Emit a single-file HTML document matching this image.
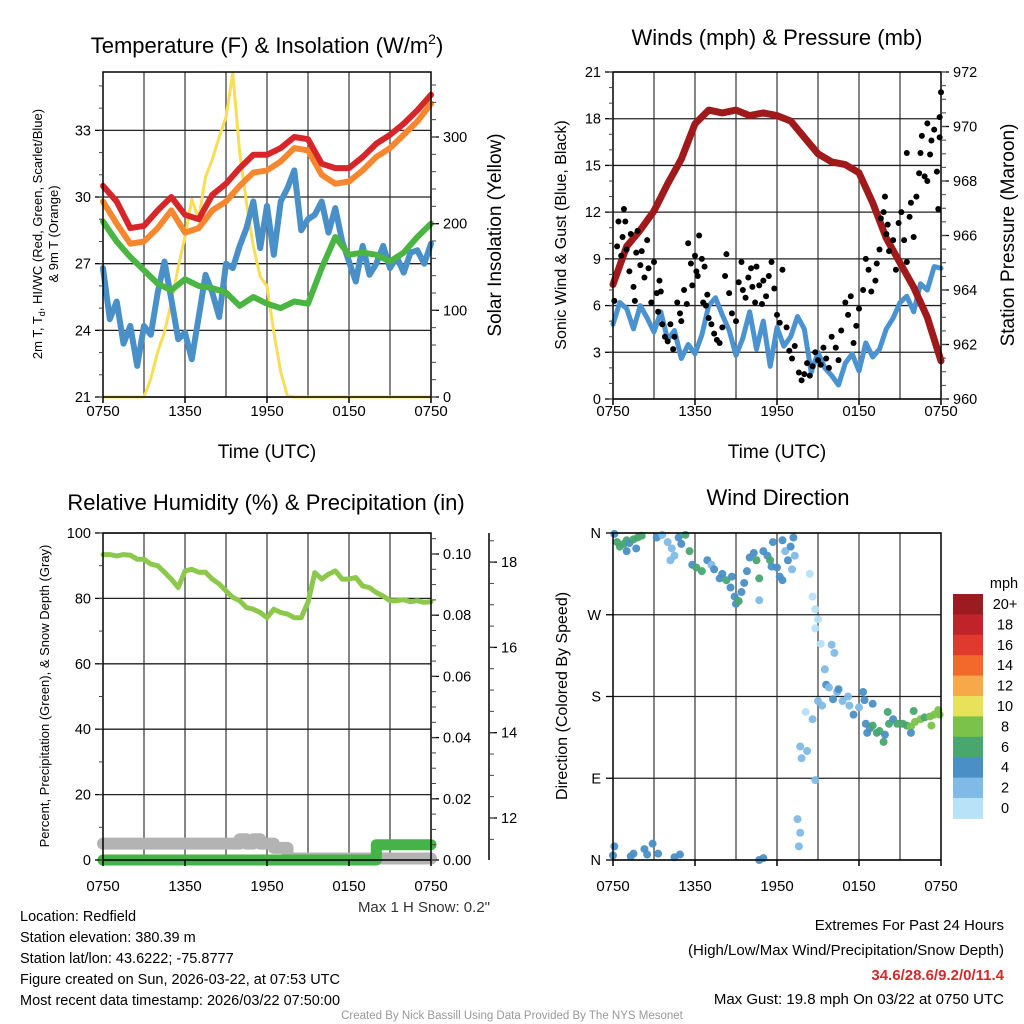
<!DOCTYPE html>
<html><head><meta charset="utf-8"><style>
html,body{margin:0;padding:0;background:#fff;}
svg{display:block;font-family:"Liberation Sans",Arial,sans-serif;}
</style></head><body>
<svg id="s" width="1024" height="1024" viewBox="0 0 1024 1024" xmlns="http://www.w3.org/2000/svg">
<rect width="1024" height="1024" fill="#fff"/>
<g id="grid"></g>
<g id="marks"></g>
<g id="axes"></g>
<text x="267" y="53" font-size="22" text-anchor="middle">Temperature (F) &amp; Insolation (W/m<tspan font-size="14" dy="-9">2</tspan><tspan dy="9">)</tspan></text>
<text x="777" y="45" font-size="22" text-anchor="middle">Winds (mph) &amp; Pressure (mb)</text>
<text x="266" y="510" font-size="22" text-anchor="middle">Relative Humidity (%) &amp; Precipitation (in)</text>
<text x="778" y="505" font-size="22" text-anchor="middle">Wind Direction</text>
<text x="267" y="458" font-size="19" text-anchor="middle">Time (UTC)</text>
<text x="777" y="458" font-size="19" text-anchor="middle">Time (UTC)</text>
<g font-size="13" text-anchor="middle">
<text transform="translate(42,234) rotate(-90)">2m T, T<tspan font-size="9" dy="3">d</tspan><tspan dy="-3">, HI/WC (Red, Green, Scarlet/Blue)</tspan></text>
<text transform="translate(58,234) rotate(-90)">&amp; 9m T (Orange)</text></g>
<text transform="translate(501,235) rotate(-90)" font-size="19" text-anchor="middle">Solar Insolation (Yellow)</text>
<text transform="translate(566,235) rotate(-90)" font-size="16" text-anchor="middle">Sonic Wind &amp; Gust (Blue, Black)</text>
<text transform="translate(1014,235) rotate(-90)" font-size="19" text-anchor="middle">Station Pressure (Maroon)</text>
<text transform="translate(49,696) rotate(-90)" font-size="13" text-anchor="middle">Percent, Precipitation (Green), &amp; Snow Depth (Gray)</text>
<text transform="translate(567,696) rotate(-90)" font-size="16" text-anchor="middle">Direction (Colored By Speed)</text>
<text x="490" y="912" font-size="15" text-anchor="end" fill="#333">Max 1 H Snow: 0.2"</text>
<g font-size="14.5">
<text x="20" y="921">Location: Redfield</text>
<text x="20" y="942">Station elevation: 380.39 m</text>
<text x="20" y="963">Station lat/lon: 43.6222; -75.8777</text>
<text x="20" y="984">Figure created on Sun, 2026-03-22, at 07:53 UTC</text>
<text x="20" y="1005">Most recent data timestamp: 2026/03/22 07:50:00</text>
</g>
<g font-size="15" text-anchor="end">
<text x="1004" y="930">Extremes For Past 24 Hours</text>
<text x="1004" y="955">(High/Low/Max Wind/Precipitation/Snow Depth)</text>
<text x="1004" y="980" fill="#d42a2a" font-weight="bold">34.6/28.6/9.2/0/11.4</text>
<text x="1004" y="1004">Max Gust: 19.8 mph On 03/22 at 0750 UTC</text>
</g>
<text x="512" y="1019" font-size="11.5" text-anchor="middle" fill="#999">Created By Nick Bassill Using Data Provided By The NYS Mesonet</text>
</svg>
<script>
// ---- data ----
const hours25=[0,1,2,3,4,5,6,7,8,9,10,11,12,13,14,15,16,17,18,19,20,21,22,23,24];
const tempRed=[30.5,29.8,28.6,28.7,29.4,30.0,29.2,29.0,30.1,30.6,31.3,31.9,31.9,32.2,32.7,32.6,31.5,31.3,31.3,31.8,32.4,32.8,33.3,33.9,34.6];
const tempOrange=[29.8,28.8,27.9,28.0,28.6,29.4,28.4,28.6,29.4,29.8,30.5,31.1,31.2,31.6,32.2,32.1,31.0,30.6,30.7,31.2,31.8,32.2,32.8,33.4,34.2];
const tempGreen=[28.9,28.0,27.3,26.7,26.1,25.8,26.3,26.0,25.9,25.7,25.1,25.5,25.2,25.0,25.3,25.2,26.8,28.2,27.4,27.5,27.4,27.1,27.5,28.2,28.8];
const tempBlue=[26.8,24.5,25.3,23.4,24.2,22.4,24.2,23.8,25.7,27.1,25.4,23.6,23.9,22.7,24.6,26.5,25.7,24.6,27.0,26.8,27.8,28.6,29.8,27.7,29.6,27.4,29.8,30.4,31.2,28.5,29.0,29.2,29.8,28.4,29.5,28.0,27.1,26.2,27.8,26.5,27.0,27.8,26.8,27.3,26.6,27.5,27.6,27.0,27.9];
const solar=[0,0,0,0,0,0,0,21,52,75,109,150,185,228,205,254,274,300,323,374,282,224,174,139,128,75,29,1,0,0,0,0,0,0,0,0,0,0,0,0,0,0,0,0,0,0,0,0,0];
const windSpeed=[4.8,6.2,5.8,4.5,6.0,5.2,4.3,5.6,3.8,4.4,2.6,3.5,2.9,4.1,6.0,6.5,5.4,4.4,2.8,3.9,5.6,3.2,5.0,2.1,4.6,3.4,4.0,5.3,4.5,1.7,3.0,2.0,1.5,0.9,2.3,2.9,1.8,3.6,2.7,3.2,4.5,5.2,6.2,6.6,5.6,7.4,7.0,8.5,8.4];
const pressure=[964.2,965.6,966.2,966.9,967.9,968.8,970.1,970.6,970.5,970.6,970.4,970.5,970.4,970.2,969.6,969.0,968.7,968.6,968.3,967.2,965.9,965.0,964.1,963.0,961.4];
const gustT=[0.1,0.3,0.4,0.6,0.7,0.8,0.9,1.0,1.2,1.3,1.5,1.6,1.7,1.8,2.0,2.1,2.3,2.5,2.6,2.8,3.0,3.2,3.4,3.3,3.5,3.6,3.8,4.0,4.2,4.4,4.5,4.7,4.9,5.0,5.2,5.4,5.5,5.7,5.8,6.0,6.1,6.2,6.3,6.5,6.6,6.7,6.8,6.9,7.0,7.2,7.4,7.6,7.8,8.0,8.2,8.3,8.5,8.7,9.0,9.2,9.4,9.5,9.7,9.9,10.1,10.2,10.4,10.5,10.7,10.9,11.0,11.2,11.4,11.6,11.8,12.0,12.2,12.4,12.7,12.9,13.1,13.3,13.6,13.8,14.0,14.2,14.4,14.6,14.8,15.0,15.2,15.4,15.6,15.8,16.0,16.3,16.5,16.7,17.0,17.2,17.4,17.6,17.8,18.0,18.3,18.5,18.7,18.9,19.2,19.3,19.5,19.6,19.8,20.0,20.1,19.9,20.2,20.5,20.7,20.9,21.1,21.3,21.5,21.7,21.8,22.0,22.2,22.4,22.5,22.6,22.8,23.0,23.2,23.3,23.5,23.7,23.8,23.9,24.0,23.9,23.0,21.5];
const gustV=[6.3,9.8,11.4,9.2,10.4,12.2,11.4,9.6,8.2,10.6,7.2,6.3,9.4,10.8,8.6,9.5,7.8,10.2,8.4,6.2,8.8,6.8,7.6,5.6,6.9,4.8,4.0,3.7,4.8,3.2,4.0,6.2,5.5,5.0,7.0,6.1,10.0,8.7,7.3,9.2,8.2,7.9,10.5,9.0,6.2,8.5,6.0,6.7,5.2,4.8,4.2,3.8,3.6,4.6,7.9,9.3,6.8,5.5,5.0,7.5,8.8,7.0,6.5,7.8,8.4,7.2,6.2,8.5,7.3,6.1,7.6,6.6,7.9,8.8,7.1,5.4,4.9,8.3,4.6,3.1,2.6,3.4,1.7,1.2,1.6,2.3,1.5,2.1,3.0,2.5,2.2,3.3,2.6,2.0,4.0,3.3,2.5,4.4,6.2,5.4,6.6,3.6,4.7,5.8,7.0,9.0,8.3,6.9,7.6,8.7,9.6,11.6,12.0,10.6,11.2,13.0,9.5,10.2,8.3,11.3,12.0,10.2,8.8,11.7,12.6,10.4,13.0,14.5,15.8,16.9,14.3,14.0,15.7,16.6,17.3,14.6,12.2,16.8,19.7,18.1,17.7,15.8];
const rh=[93.4,93.4,93,93.4,93.2,92,92,90.5,90,88,85.9,83.3,88.4,88.9,88,88,85.9,84.4,82.3,80.3,79.3,77.2,76.7,75.7,74.1,76.7,75.7,75.2,74.1,74.1,78.8,87.9,85.9,87.4,88.4,85.9,85.9,86.4,83.8,83.3,81.8,80.7,79.3,79.3,79.6,79,79.3,78.8,79];
const snowT=[0,9.5,10,10.5,11,11.5,12.5,13.5,24];
const snowV=[11.4,11.4,11.5,11.4,11.5,11.4,11.3,11.05,11.05];
const precipT=[0,19.8,20.0,24];
const precipV=[0,0,0.005,0.005];
const dirT=[0.1,0.3,0.5,0.8,1.0,1.2,1.5,1.8,2.1,1.0,1.7,0.0,0.1,1.3,1.5,2.3,2.5,2.9,3.3,4.5,4.9,3.2,3.6,4.0,4.3,4.5,4.2,4.8,5.0,5.3,5.6,5.8,6.1,6.5,6.9,7.2,7.4,7.8,8.0,8.3,8.6,8.7,8.9,9.0,9.2,9.4,9.6,9.8,10.0,10.3,10.5,10.7,10.7,11.0,11.3,11.5,11.7,12.0,12.2,12.4,12.6,12.8,13.0,13.2,13.1,13.3,12.4,11.6,10.7,11.0,14.4,14.6,14.8,15.0,14.8,15.2,14.1,15.5,14.6,15.0,13.7,13.8,13.5,13.7,13.6,14.2,14.8,16.0,16.2,15.3,15.6,15.8,16.1,16.4,16.8,17.2,17.6,18.0,18.3,17.3,16.5,18.5,18.6,18.8,19.0,19.3,19.5,19.9,20.2,20.5,20.8,21.2,21.5,21.8,22.1,22.5,22.8,23.2,23.5,23.8,23.9,23.3,22.0,21.8,19.8,20.1,19.0,18.4];
const dirV=[359,350,345,348,352,349,353,355,357,340,343,5,15,4,7,12,6,18,7,3,6,355,358,350,343,335,330,355,348,358,340,325,322,318,330,325,320,310,315,308,300,312,290,282,285,295,305,318,333,338,330,310,286,340,335,330,350,322,312,352,340,330,345,355,320,335,308,323,0,2,315,290,276,265,255,238,163,210,155,175,125,112,45,30,15,120,88,237,228,170,193,190,177,185,175,180,160,168,185,170,188,150,140,145,148,140,142,138,150,155,150,150,148,147,152,155,157,158,160,165,160,148,164,140,130,163,172,176];
const dirSpd=[4,6,6,7,6,5,6,7,6,4,4,4,4,4,4,4,4,4,4,4,4,4,2,2,2,2,2,4,4,6,6,4,6,6,4,2,4,4,4,6,4,4,4,4,6,4,4,4,4,4,6,6,2,4,4,6,4,4,4,4,2,4,4,4,2,2,4,4,4,4,0,0,0,0,0,0,0,2,2,2,2,2,2,2,2,2,2,2,2,2,4,2,4,2,2,2,4,2,4,2,4,4,4,4,6,6,6,4,6,4,6,6,6,8,8,8,6,8,8,8,8,8,6,4,6,6,4,4];
const cbLabels=["20+","18","16","14","12","10","8","6","4","2","0"];
const cbColors=["#9b1c20","#c1232b","#e0392d","#f2692c","#f7a94a","#e8e15a","#7bc24b","#48a66f","#4a8fc6","#7fbbe6","#b7e2f7"];
const xTickLabels=["0750","1350","1950","0150","0750"];
const xTickHours=[0,6,12,18,24];

// ---- geometry ----
const NS="http://www.w3.org/2000/svg";
const P1={x0:103,x1:431,y0:72,y1:397,lab:19}, P2={x0:613,x1:941,y0:72,y1:399,lab:17}, P3={x0:103,x1:431,y0:533,y1:860,lab:31}, P4={x0:613,x1:941,y0:533,y1:860,lab:31};
const gG=document.getElementById('grid'), gM=document.getElementById('marks'), gA=document.getElementById('axes');
function mk(tag,attrs,parent){const e=document.createElementNS(NS,tag);for(const k in attrs)e.setAttribute(k,attrs[k]);parent.appendChild(e);return e;}
function sx(p,t){return p.x0+t/24*(p.x1-p.x0);}
function sy(p,v,lo,hi){return p.y1-(v-lo)/(hi-lo)*(p.y1-p.y0);}
function stepT(arr){return arr.map((_,i)=>i*24/(arr.length-1));}
function polyline(p,ts,vs,lo,hi,color,w,name){
  const pts=ts.map((t,i)=>sx(p,t).toFixed(1)+','+sy(p,vs[i],lo,hi).toFixed(1)).join(' ');
  const el=mk('polyline',{points:pts,fill:'none',stroke:color,'stroke-width':w,'stroke-linejoin':'round','stroke-linecap':'round'},gM);
  
  
}
function stepline(p,ts,vs,lo,hi,color,w,name){
  let pts=[];
  for(let i=0;i<ts.length;i++){ if(i>0) pts.push([ts[i],vs[i-1]]); pts.push([ts[i],vs[i]]); }
  const s=pts.map(q=>sx(p,q[0]).toFixed(1)+','+sy(p,q[1],lo,hi).toFixed(1)).join(' ');
  const el=mk('polyline',{points:s,fill:'none',stroke:color,'stroke-width':w,'stroke-linejoin':'round','stroke-linecap':'round'},gM);
  
  
}
function frame(p,name,hTicks){
  for(let h=3;h<24;h+=3){const x=sx(p,h);const l=mk('line',{x1:x,x2:x,y1:p.y0,y2:p.y1,stroke:'#444','stroke-width':1.3},gG);
    
    }
  hTicks.forEach(y=>{const l=mk('line',{x1:p.x0,x2:p.x1,y1:y,y2:y,stroke:'#222','stroke-width':1.3},gG);
    
    });
  const r=mk('rect',{x:p.x0,y:p.y0,width:p.x1-p.x0,height:p.y1-p.y0,fill:'none',stroke:'#000','stroke-width':1.5},gA);
  
  
  xTickHours.forEach((h,i)=>{const x=sx(p,h);
    const tk=mk('line',{x1:x,x2:x,y1:p.y1,y2:p.y1+6,stroke:'#000','stroke-width':1.5},gA);
    
    
    const t=mk('text',{x:x,y:p.y1+p.lab,'font-size':15,'text-anchor':'middle'},gA);t.textContent=xTickLabels[i];
    
    });
}
function yAxis(p,lo,hi,vals,minorStep,side,xAxis,name,fmt){
  vals.forEach(v=>{const y=sy(p,v,lo,hi);
    const x2=side==='left'?xAxis-8:xAxis+8;
    const tk=mk('line',{x1:xAxis,x2:x2,y1:y,y2:y,stroke:'#000','stroke-width':1.3},gA);
    
    
    const t=mk('text',{x:side==='left'?xAxis-12:xAxis+12,y:y+5,'font-size':14.5,'text-anchor':side==='left'?'end':'start'},gA);
    t.textContent=fmt(v);
    
    });
  if(minorStep){for(let v=Math.ceil(lo/minorStep)*minorStep;v<=hi;v+=minorStep){const y=sy(p,v,lo,hi);
    const x2=side==='left'?xAxis-4:xAxis+5;
    const tk=mk('line',{x1:xAxis,x2:x2,y1:y,y2:y,stroke:'#444','stroke-width':1},gA);
    
    }}
}
// Panel 1
const T_LO=21,T_HI=21+(397-72)/22.22, S_LO=0,S_HI=375;
const tTicks=[21,24,27,30,33];
frame(P1,'temperature-panel',tTicks.map(v=>sy(P1,v,T_LO,T_HI)));
yAxis(P1,T_LO,T_HI,tTicks,1,'left',P1.x0,'temperature-y',v=>String(v));
yAxis(P1,S_LO,S_HI,[0,100,200,300],20,'right',P1.x1,'solar-y',v=>String(v));
polyline(P1,stepT(solar),solar,S_LO,S_HI,'#f8dd57',3,'solar-insolation-line');
polyline(P1,stepT(tempBlue),tempBlue,T_LO,T_HI,'#4a90c8',6,'windchill-blue-line');
polyline(P1,hours25,tempGreen,T_LO,T_HI,'#4bb544',6,'dewpoint-line');
polyline(P1,hours25,tempOrange,T_LO,T_HI,'#f7872e',6,'temp-9m-line');
polyline(P1,hours25,tempRed,T_LO,T_HI,'#d6262a',6,'temp-2m-line');
// Panel 2
const W_LO=0,W_HI=21,PR_LO=960,PR_HI=972;
const wTicks=[0,3,6,9,12,15,18,21];
frame(P2,'winds-panel',wTicks.map(v=>sy(P2,v,W_LO,W_HI)));
yAxis(P2,W_LO,W_HI,wTicks,1,'left',P2.x0,'wind-y',v=>String(v));
yAxis(P2,PR_LO,PR_HI,[960,962,964,966,968,970,972],0.5,'right',P2.x1,'pressure-y',v=>String(v));
polyline(P2,stepT(windSpeed),windSpeed,W_LO,W_HI,'#4a93d0',5,'wind-speed-line');
polyline(P2,hours25,pressure,PR_LO,PR_HI,'#a01a1c',7,'pressure-line');
gustT.forEach((t,i)=>{const c=mk('circle',{cx:sx(P2,t),cy:sy(P2,gustV[i],W_LO,W_HI),r:3,fill:'#000'},gM);
  
  });
// Panel 3
const RH_LO=0,RH_HI=100,PC_LO=0,PC_HI=0.1*(327/306),SN_LO=12-42/42.65,SN_HI=12-42/42.65+327/42.65;
const rTicks=[0,20,40,60,80,100];
frame(P3,'humidity-panel',rTicks.map(v=>sy(P3,v,RH_LO,RH_HI)));
yAxis(P3,RH_LO,RH_HI,rTicks,10,'left',P3.x0,'humidity-y',v=>String(v));
yAxis(P3,PC_LO,PC_HI,[0,0.02,0.04,0.06,0.08,0.1],0.005,'right',P3.x1,'precip-y',v=>v.toFixed(2));
const sa=mk('line',{x1:489,x2:489,y1:P3.y0,y2:P3.y1,stroke:'#000','stroke-width':1.5},gA);


yAxis(P3,SN_LO,SN_HI,[12,14,16,18],0.5,'right',489,'snow-y',v=>String(v));
polyline(P3,stepT(rh),rh,RH_LO,RH_HI,'#8cc84b',5,'relative-humidity-line');
stepline(P3,snowT,snowV,SN_LO,SN_HI,'#b3b3b3',12,'snow-depth-line');
stepline(P3,precipT,precipV,PC_LO,PC_HI,'#45b347',11,'precipitation-line');
// Panel 4
const dTicks=[0,90,180,270,360],dLabels=["N","E","S","W","N"];
frame(P4,'direction-panel',dTicks.map(v=>sy(P4,v,0,360)));
dTicks.forEach((v,i)=>{const y=sy(P4,v,0,360);
  const tk=mk('line',{x1:P4.x0,x2:P4.x0-7,y1:y,y2:y,stroke:'#000','stroke-width':1.3},gA);
  
  
  const t=mk('text',{x:P4.x0-12,y:y+5,'font-size':14.5,'text-anchor':'end'},gA);t.textContent=dLabels[i];
  
  });
function spdColor(s){const idx=Math.min(10,Math.floor(s/2));return cbColors[10-idx];}
dirT.forEach((t,i)=>{const c=mk('circle',{cx:sx(P4,t),cy:sy(P4,dirV[i],0,360),r:4,fill:spdColor(dirSpd[i]),'fill-opacity':0.95},gM);
  
  });
// colorbar
const cbX=953,cbY=594,cbH=20.4;
const mt=mk('text',{x:1004,y:588,'font-size':14.5,'text-anchor':'middle'},gA);mt.textContent='mph';


cbLabels.forEach((lab,i)=>{
  const r=mk('rect',{x:cbX,y:cbY+i*cbH,width:30,height:cbH+0.5,fill:cbColors[i]},gA);
  
  
  const t=mk('text',{x:1005,y:cbY+i*cbH+15,'font-size':14.5,'text-anchor':'middle'},gA);t.textContent=lab;
  
  
});
</script>
</body></html>
